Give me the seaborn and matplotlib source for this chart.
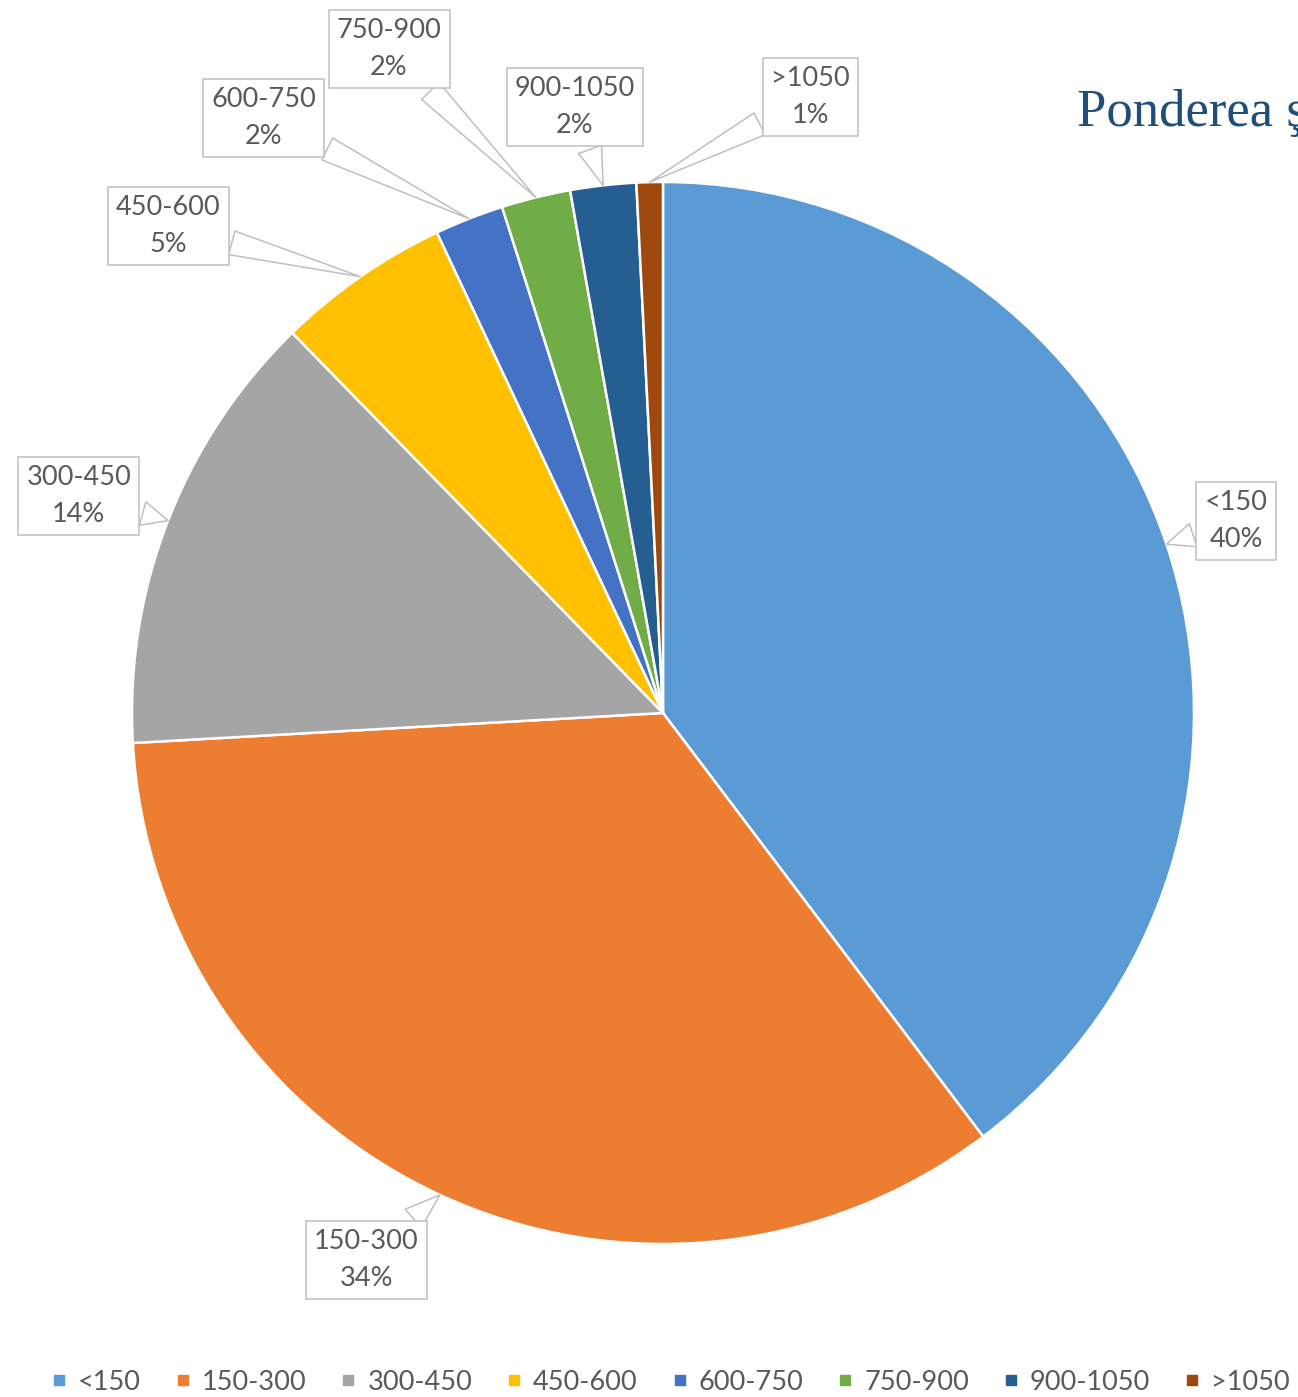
import matplotlib
matplotlib.use("Agg")
import matplotlib.pyplot as plt
from matplotlib.lines import Line2D
import numpy as np
import seaborn as sns

# ---- data ----
categories = ["<150", "150-300", "300-450", "450-600", "600-750", "750-900", "900-1050", ">1050"]
shares = [39.7, 34.4, 13.6, 5.3, 2.1, 2.1, 2.0, 0.8]
colors = ["#5B9BD5", "#ED7D31", "#A5A5A5", "#FFC000", "#4472C4", "#70AD47", "#255E91", "#9E480E"]
title_text = "Ponderea ş"

# label box centres (layout, in pie-radius units)
label_pos = [(1.079, 0.362), (-0.559, -1.030), (-1.100, 0.409), (-0.932, 0.917),
             (-0.752, 1.121), (-0.516, 1.250), (-0.166, 1.141), (0.277, 1.160)]

sns.set_theme(style="white")
palette = sns.color_palette(colors)
plt.rcParams["font.family"] = ["Lato", "DejaVu Sans"]

W, H = 1298, 1397
fig = plt.figure(figsize=(W / 100, H / 100), dpi=100)
ax = fig.add_axes([0, 0, 1, 1])
cx, cy, R = 663, 713, 531

wedges, _ = ax.pie(shares, colors=palette, startangle=90, counterclock=False,
                   radius=1.0, center=(0, 0), frame=True,
                   wedgeprops=dict(edgecolor="white", linewidth=1.8))
ax.set_xlim(-cx / R, (W - cx) / R)
ax.set_ylim((cy - H) / R, cy / R)
ax.set_aspect("auto")
ax.axis("off")

text_col = "#595959"
for w, cat, v, pos in zip(wedges, categories, shares, label_pos):
    mid = np.deg2rad((w.theta1 + w.theta2) / 2)
    tip = (np.cos(mid) * 1.0, np.sin(mid) * 1.0)
    ax.annotate(f"{cat}\n{v:.0f}%", xy=tip, xytext=pos,
                ha="center", va="center", fontsize=19.5, color=text_col,
                linespacing=1.6,
                bbox=dict(boxstyle="square,pad=0.3", fc="white", ec="#BFBFBF", lw=1.1),
                arrowprops=dict(arrowstyle="wedge,tail_width=0.9,shrink_factor=0.5",
                                fc="white", ec="#BFBFBF", lw=1.1, shrinkB=0),
                zorder=5)

fig.text(1077 / W, 1 - 126 / H, title_text, fontsize=38, color="#1F4E79",
         family=["Liberation Serif", "DejaVu Serif"], ha="left", va="baseline")

handles = [Line2D([0], [0], marker="s", linestyle="none", markersize=7.5,
                  markerfacecolor=c, markeredgecolor=c) for c in palette]
fig.legend(handles, categories, loc="center", bbox_to_anchor=(0.517, 1 - 1382 / H),
           ncol=len(categories), frameon=False, fontsize=19.5, labelcolor=text_col,
           handlelength=0.5, handletextpad=0.45, columnspacing=1.3, borderpad=0)

fig.savefig("out.png", dpi=100)
